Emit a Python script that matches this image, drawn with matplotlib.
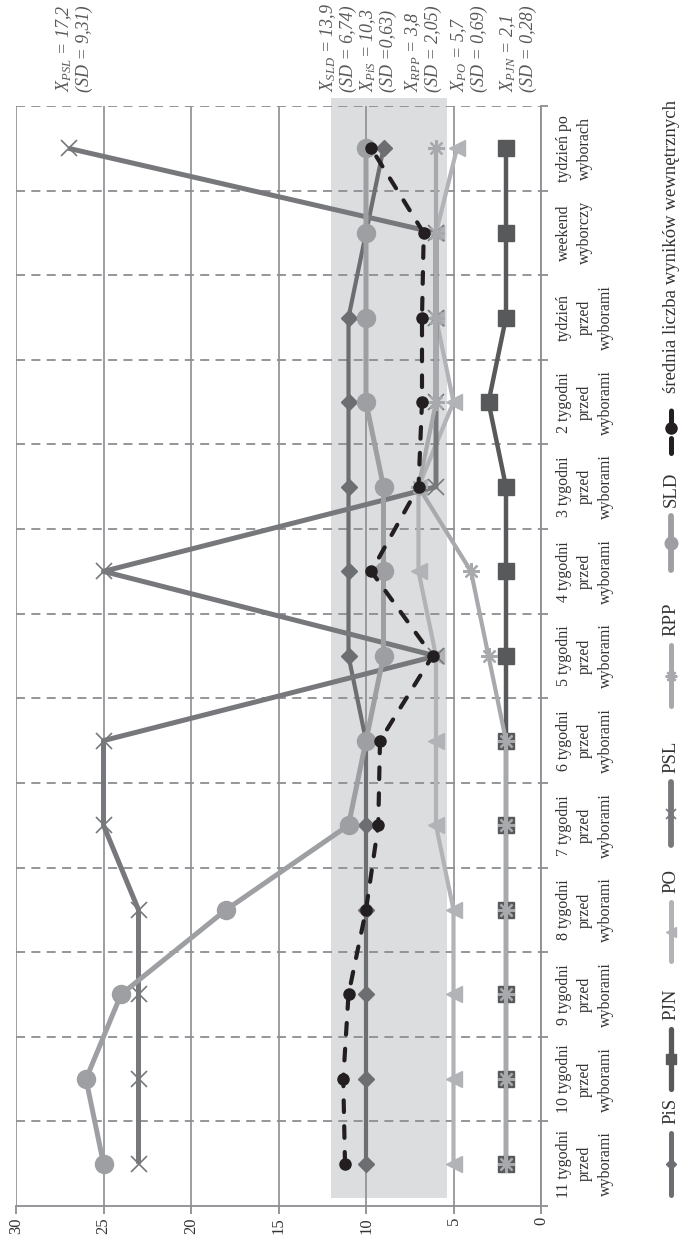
import matplotlib.pyplot as plt
from matplotlib.ticker import MultipleLocator

plt.rcParams['font.family'] = ['Liberation Serif', 'DejaVu Serif']
plt.rcParams['mathtext.fontset'] = 'custom'
plt.rcParams['mathtext.rm'] = 'Liberation Serif'
plt.rcParams['mathtext.it'] = 'Liberation Serif:italic'

# categories from first (11 weeks before) to last (week after)
categories = ["11 tygodni\nprzed\nwyborami", "10 tygodni\nprzed\nwyborami",
              "9 tygodni\nprzed\nwyborami", "8 tygodni\nprzed\nwyborami",
              "7 tygodni\nprzed\nwyborami", "6 tygodni\nprzed\nwyborami",
              "5 tygodni\nprzed\nwyborami", "4 tygodni\nprzed\nwyborami",
              "3 tygodni\nprzed\nwyborami", "2 tygodni\nprzed\nwyborami",
              "tydzień\nprzed\nwyborami", "weekend\nwyborczy", "tydzień po\nwyborach"]

pis = [10, 10, 10, 10, 10, 10, 11, 11, 11, 11, 11, 10, 9]
pjn = [2, 2, 2, 2, 2, 2, 2, 2, 2, 3, 2, 2, 2]
po = [5, 5, 5, 5, 6, 6, 6, 7, 7, 5, 6, 6, 4.8]
psl = [23, 23, 23, 23, 25, 25, 6, 25, 6, 6, 6, 6, 27]
rpp = [2, 2, 2, 2, 2, 2, 3, 4, 7, 6, 6, 6, 6]
sld = [25, 26, 24, 18, 11, 10, 9, 9, 9, 10, 10, 10, 10]
mean_internal = [11.2, 11.3, 11.0, 10.0, 9.3, 9.2, 6.2, 9.7, 7.0, 6.8, 6.8, 6.7, 9.7]

band_low, band_high = 5.4, 12.0
value_ticks = [0, 5, 10, 15, 20, 25, 30]

# annotation texts (mean and SD per party)
notes = [("PSL", "17,2", "(SD = 9,31)"), ("SLD", "13,9", "(SD = 6,74)"),
         ("PiS", "10,3", "(SD =0,63)"), ("RPP", "3,8", "(SD = 2,05)"),
         ("PO", "5,7", "(SD = 0,69)"), ("PJN", "2,1", "(SD = 0,28)")]
note_x = [64, 328, 368, 413, 459, 508]   # pixel x of first line

W, H = 681, 1238
grid_c = '#8c8e91'
txt_c = '#333335'

fig = plt.figure(figsize=(W / 100, H / 100), dpi=100)
ax = fig.add_axes([16 / W, 1 - 1206 / H, (541 - 16) / W, (1206 - 106) / H])
pos = list(range(len(categories)))
ax.set_xlim(30, 0)
ax.set_ylim(-0.5, len(categories) - 0.5)

# grey band
ax.fill_betweenx([-0.4, len(categories) - 0.4], band_low, band_high,
                 color='#dcdddf', lw=0, zorder=0, clip_on=False)

for v in value_ticks:
    ax.axvline(v, color=grid_c, lw=1.2, zorder=1)
for b in range(len(categories)):
    ax.axhline(b + 0.5, color=grid_c, lw=1.3, ls=(0, (5, 3.5)), zorder=1)

for s in ['left', 'top']:
    ax.spines[s].set_visible(False)
for s in ['bottom', 'right']:
    ax.spines[s].set_color(grid_c)
    ax.spines[s].set_linewidth(1.3)

# series
styles = [
    (pis, 'PiS', '#6d6e71', 3.0, 'D', 8, 1.0),
    (pjn, 'PJN', '#58595b', 3.2, 's', 11, 1.0),
    (po, 'PO', '#b1b3b6', 3.0, '<', 11, 1.0),
    (psl, 'PSL', '#77787b', 3.6, 'x', 11, 1.2),
    (rpp, 'RPP', '#a7a9ac', 3.0, (8, 2, 0), 12, 1.6),
    (sld, 'SLD', '#9d9fa2', 3.6, 'o', 13, 1.0),
]
z = 3
for vals, name, col, lw, mk, ms, mew in styles:
    ax.plot(vals, pos, color=col, lw=lw, marker=mk, ms=ms, mew=mew,
            mec=col, mfc=col, zorder=z, solid_capstyle='butt')
    z += 1
ax.plot(mean_internal, pos, color='#231f20', lw=3.0, ls=(0, (2.8, 3.4)),
        dash_capstyle='round', marker='o', ms=8, zorder=z)

# value axis (bottom)
ax.set_xticks(value_ticks)
ax.tick_params(axis='x', direction='out', length=6, width=1.3, color=grid_c,
               labelsize=12, labelcolor=txt_c, labelrotation=90, pad=2)

# category axis (right)
ax.yaxis.tick_right()
ax.set_yticks(pos, categories)
ax.yaxis.set_minor_locator(MultipleLocator(1, offset=0.5))
ax.tick_params(axis='y', which='major', length=0, pad=11, labelsize=11.5, labelcolor=txt_c)
ax.tick_params(axis='y', which='minor', length=5, width=1.3, color=grid_c, direction='out')
for lbl in ax.get_yticklabels():
    lbl.set_rotation(90)
    lbl.set_va('center')
    lbl.set_ha('left')
    lbl.set_multialignment('center')
    lbl.set_linespacing(1.4)

# overlay in pixel coords for legend and notes
lax = fig.add_axes([0, 0, 1, 1])
lax.set_xlim(0, W)
lax.set_ylim(H, 0)
lax.axis('off')
lax.patch.set_alpha(0)

for (name, m, sd), x in zip(notes, note_x):
    lax.text(x, 92, r'$\mathregular{X_{%s}}$ = %s' % (name, m), rotation=90,
             ha='center', va='bottom', fontsize=13, color='#58595b', style='italic')
    lax.text(x + 20, 92, sd, rotation=90, ha='center', va='bottom',
             fontsize=13, color='#58595b', style='italic')

# legend (drawn by hand because it is rotated)
leg_lines = [(1195, 1133), (1089, 1029), (961, 902), (845, 782), (706, 645), (570, 516), (453, 402)]
leg_x = 671
for (vals, name, col, lw, mk, ms, mew), (y0, y1) in zip(styles, leg_lines):
    lax.plot([leg_x, leg_x], [y0, y1], color=col, lw=lw + 0.6, solid_capstyle='round')
    lax.plot([leg_x], [(y0 + y1) / 2], marker=mk, ms=ms * 0.7, color=col, mew=mew)
    lax.text(leg_x, y1 - 9, name, rotation=90, ha='center', va='bottom',
             fontsize=13.5, color=txt_c)
y0, y1 = leg_lines[-1]
lax.plot([leg_x, leg_x], [y0, y1], color='#231f20', lw=3.6, ls=(0, (3, 2.5)),
         dash_capstyle='round')
lax.plot([leg_x], [(y0 + y1) / 2], marker='o', ms=8, color='#231f20')
lax.text(leg_x, y1 - 9, "średnia liczba wyników wewnętrznych", rotation=90,
         ha='center', va='bottom', fontsize=13.5, color=txt_c)

plt.savefig("out.png", dpi=100)
